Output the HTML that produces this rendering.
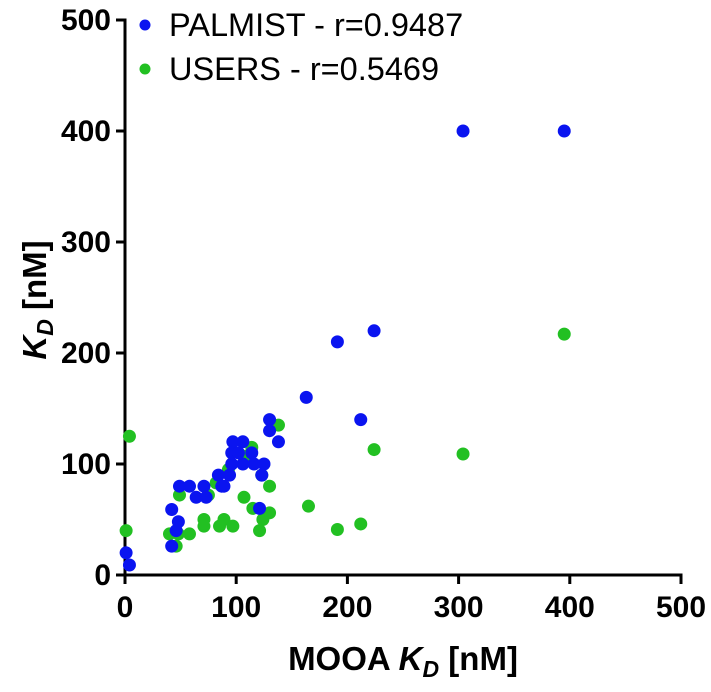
<!DOCTYPE html>
<html><head><meta charset="utf-8"><style>
body{margin:0;background:#fff}
svg text{font-family:"Liberation Sans",Arial,sans-serif}
</style></head><body>
<svg id="chart" width="711" height="687" viewBox="0 0 711 687" xmlns="http://www.w3.org/2000/svg">
<g id="axes"></g><g id="marks"></g>
<g>
<circle cx="145" cy="25" r="5.5" fill="#0a14f0"/>
<text x="169" y="36" font-size="32.5">PALMIST - r=0.9487</text>
<circle cx="145" cy="69" r="5.5" fill="#22c022"/>
<text x="169" y="80" font-size="32.5">USERS - r=0.5469</text>
</g>
<text x="403" y="670" font-size="33" font-weight="bold" text-anchor="middle">MOOA <tspan font-style="italic">K</tspan><tspan font-style="italic" font-size="23" dy="7">D</tspan><tspan dy="-7"> [nM]</tspan></text>
<text transform="translate(46,300) rotate(-90)" font-size="33" font-weight="bold" text-anchor="middle"><tspan font-style="italic">K</tspan><tspan font-style="italic" font-size="23" dy="7">D</tspan><tspan dy="-7"> [nM]</tspan></text>
</svg>
<script>
const xTicks=[0,100,200,300,400,500];
const yTicks=[0,100,200,300,400,500];
const palmistX=[1,4,42,48,46,42,49,58,64,73,71,84,87,89,94,96,97,96,102,106,106,114,116,125,123,121,130,130,138,163,191,212,224,304,395];
const palmistY=[20,9,59,48,40,26,80,80,70,70,80,90,80,80,90,100,120,110,110,120,100,110,100,100,90,60,140,130,120,160,210,140,220,400,400];
const usersX=[4,1,49,40,48,46,58,71,71,75,85,89,97,93,82,107,114,108,115,123,130,124,130,121,138,165,191,212,224,304,395];
const usersY=[125,40,72,37,37,26,37,50,44,72,44,50,44,95,83,70,115,107,60,90,80,50,56,40,135,62,41,46,113,109,217];
const X0=125,X1=681,Y0=575,Y1=20;
const sx=v=>X0+(v-0)/500*(X1-X0);
const sy=v=>Y0-(v-0)/500*(Y0-Y1);
const NS='http://www.w3.org/2000/svg';
const axes=document.getElementById('axes'),marks=document.getElementById('marks');
function mk(tag,attrs,parent){const e=document.createElementNS(NS,tag);for(const k in attrs)e.setAttribute(k,attrs[k]);parent.appendChild(e);return e;}
let l=mk('line',{x1:X0,y1:Y0,x2:X1+1.5,y2:Y0,stroke:'#000','stroke-width':3},axes);


l=mk('line',{x1:X0,y1:Y0+1.5,x2:X0,y2:Y1-1.5,stroke:'#000','stroke-width':3},axes);


xTicks.forEach(v=>{
 const t=mk('line',{x1:sx(v),y1:Y0,x2:sx(v),y2:Y0+9,stroke:'#000','stroke-width':3},axes);
 
 
 const tx=mk('text',{x:sx(v),y:Y0+42,'font-size':30,'font-weight':'bold','text-anchor':'middle'},axes);
 tx.textContent=v;
 
 
});
yTicks.forEach(v=>{
 const t=mk('line',{x1:X0-9,y1:sy(v),x2:X0,y2:sy(v),stroke:'#000','stroke-width':3},axes);
 
 
 const tx=mk('text',{x:X0-14,y:sy(v)+10,'font-size':30,'font-weight':'bold','text-anchor':'end'},axes);
 tx.textContent=v;
 
 
});
usersX.forEach((x,i)=>{
 const c=mk('circle',{cx:sx(x),cy:sy(usersY[i]),r:6.5,fill:'#22c022'},marks);
 
 
});
palmistX.forEach((x,i)=>{
 const c=mk('circle',{cx:sx(x),cy:sy(palmistY[i]),r:6.5,fill:'#0a14f0'},marks);
 
 
});
</script>
</body></html>
